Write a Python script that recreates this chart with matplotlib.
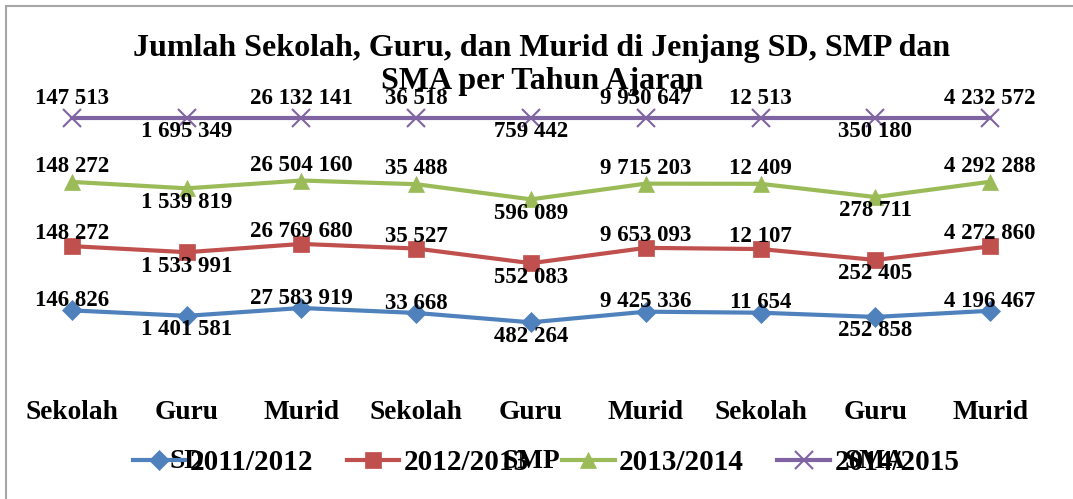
import matplotlib

matplotlib.use("Agg")
import matplotlib.pyplot as plt
import numpy as np
from matplotlib.patches import Rectangle

# categories (multi-level: jenjang / item)
categories = ["Sekolah", "Guru", "Murid"] * 3
groups = ["SD", "SMP", "SMA"]
years = ["2011/2012", "2012/2013", "2013/2014", "2014/2015"]

# raw values per tahun ajaran, order: SD(Sekolah, Guru, Murid), SMP(...), SMA(...)
v_2011 = [146826, 1401581, 27583919, 33668, 482264, 9425336, 11654, 252858, 4196467]
v_2012 = [148272, 1533991, 26769680, 35527, 552083, 9653093, 12107, 252405, 4272860]
v_2013 = [148272, 1539819, 26504160, 35488, 596089, 9715203, 12409, 278711, 4292288]
v_2014 = [147513, 1695349, 26132141, 36518, 759442, 9930647, 12513, 350180, 4232572]

colors = ["#4F81BD", "#C0504D", "#9BBB59", "#8064A2"]
markers = ["D", "s", "^", "x"]
msizes = [10, 11, 11, 13]
# vertical offset (pt) of the "above" labels, per series
above_off = [-7, -9, -11, -14]
below_off = 10

W, H = 1073, 499
fig = plt.figure(figsize=(W / 100, H / 100), dpi=100)
plt.rcParams["font.family"] = ["Liberation Serif", "DejaVu Serif"]
plt.rcParams["font.weight"] = "bold"

# chart area border (cropped at right / bottom in the reference)
fig.patches.append(Rectangle((6 / W, -0.1), 1.2, 1 - 6 / H + 0.1, transform=fig.transFigure,
                             fill=False, edgecolor="#a6a6a6", linewidth=1.5))

x0, x1 = 14.6, 1047.4
ax = fig.add_axes([x0 / W, (H - 374) / H, (x1 - x0) / W, 256 / H])

data = np.array([v_2011, v_2012, v_2013, v_2014], dtype=float)
share = data / data.sum(axis=0)
cum = np.cumsum(share, axis=0)
x = np.arange(len(categories))

for i, year in enumerate(years):
    ax.plot(x, cum[i], color=colors[i], linewidth=3, marker=markers[i], markersize=msizes[i],
            markeredgewidth=1.5 if markers[i] == "x" else 0.5, markeredgecolor=colors[i],
            label=year, solid_joinstyle="round", zorder=3, clip_on=False)
    for j in range(len(x)):
        dy = below_off if categories[j] == "Guru" else above_off[i]
        dy = -dy
        ax.annotate(f"{int(data[i, j]):,}".replace(",", " "), (x[j], cum[i, j]),
                    xytext=(0, dy), textcoords="offset points", ha="center", va="center",
                    fontsize=16.5, fontweight="bold", zorder=4)

ax.set_xlim(-0.5, len(x) - 0.5)
ax.set_ylim(0, 1)
ax.set_xticks(x)
ax.set_xticklabels(categories, fontsize=19.7, fontweight="bold")
ax.tick_params(axis="x", length=0, pad=19)
ax.set_yticks([])
for s in ax.spines.values():
    s.set_visible(False)
ax.patch.set_alpha(0)

# group labels under the categories
for k, g in enumerate(groups):
    ax.text(3 * k + 1, -0.34, g, ha="center", va="center", fontsize=19.7,
            fontweight="bold", transform=ax.get_xaxis_transform())

fig.text(542 / W, 1 - 65 / H, "Jumlah Sekolah, Guru, dan Murid di Jenjang SD, SMP dan\nSMA per Tahun Ajaran",
         ha="center", va="center", fontsize=23, fontweight="bold", linespacing=1.15)

fig.legend(loc="center", bbox_to_anchor=(546 / W, (H - 463) / H), ncol=4, frameon=False,
           prop={"size": 21, "weight": "bold"}, handlelength=1.8, handletextpad=0.15,
           columnspacing=1.15, borderaxespad=0)

fig.savefig("out.png", dpi=100)
